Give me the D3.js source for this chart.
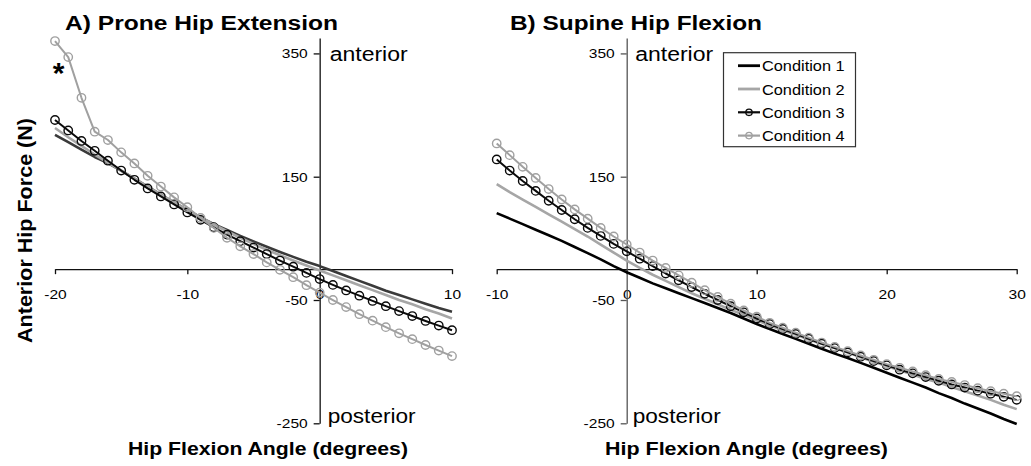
<!DOCTYPE html>
<html><head><meta charset="utf-8">
<script src="https://cdn.jsdelivr.net/npm/d3@7"></script>
<style>
body{margin:0;background:#fff}
svg{display:block}
text{font-family:"Liberation Sans",Arial,Helvetica,sans-serif;fill:#000}
</style>
</head><body>
<svg id="chart" width="1031" height="466"></svg>
<script>
// ---------- DATA ----------
const seriesNames = ["Condition 1", "Condition 2", "Condition 3", "Condition 4"];
const yTickValues = [350, 150, -50, -250];
const proneTicks = [-20, -10, 0, 10];
const supineTicks = [-10, 0, 10, 20, 30];

const proneAngles = [-20,-19,-18,-17,-16,-15,-14,-13,-12,-11,-10,-9,-8,-7,-6,-5,-4,-3,-2,-1,0,1,2,3,4,5,6,7,8,9,10];
const proneC1 = [218,206,194,182,172,160,147,134,121,108,96,84,73,63.5,54,45,36.5,28,20,12,5,-3,-11,-19,-27,-35,-42,-49,-56,-63,-69];
const proneC2 = [229,214,200,186,173,160,147,134,121,108.5,96,84,72.5,61.5,51,41,31.5,22.5,14,6,-2,-10,-18,-26,-34,-42,-50,-57,-65,-72,-80];
const proneC3 = [242,225,208,192,176,160,145,131,118,105,92,80,68,56,45.5,35,24.5,14,4,-6,-16,-25.5,-34.5,-43,-51.5,-60,-68,-76,-84,-91.5,-99];
const proneC4 = [370,344,278,223,209.5,189.5,171.5,151.5,134,116.5,100.5,83,67,51,37,24.5,11,-1,-13,-26,-38,-50,-61.5,-73,-83.5,-94,-104,-113.5,-123,-132,-141];

const supineAngles = [-10,-9,-8,-7,-6,-5,-4,-3,-2,-1,0,1,2,3,4,5,6,7,8,9,10,11,12,13,14,15,16,17,18,19,20,21,22,23,24,25,26,27,28,29,30];
const supineC1 = [91,82,73,64,55,46,36,26,16,5,-5,-14,-23,-31,-39,-47,-55,-63,-71,-80,-89,-97,-105,-113,-121,-129,-137,-144,-152,-160,-168,-176,-184,-192,-201,-209,-218,-226,-234,-243,-251];
const supineC2 = [138,125,113,101,89,77,65,53,40,27,14,2,-9,-19,-29,-39,-48,-57,-66,-74,-83,-91,-99,-106,-114,-121,-128,-135,-143,-150,-157,-164,-171,-178,-184,-191,-198,-205,-212,-220,-227];
const supineC3 = [178,160,143,127,111,96,81,67,54,41,29,17,5,-7,-18,-29,-40,-50,-60,-70,-80,-89,-97,-105,-113,-121,-128,-135,-142,-149,-156,-163,-169,-175,-181,-187,-192,-197,-202,-207,-212];
const supineC4 = [204,185,166,148,130,113,97,82,67,53,40,27,14,2,-10,-22,-34,-45,-56,-67,-77,-87,-95,-103,-111,-119,-126,-133,-140,-147,-154,-160,-166,-172,-178,-183,-188,-193,-198,-202,-206];

// ---------- DRAWING ----------
const svg = d3.select("#chart");
const y = d3.scaleLinear().domain([-250, 375]).range([423.3, 38]);
const fmt = d => String(d);

function stretch(sel, k) {
  sel.each(function() {
    const L = this.getComputedTextLength();
    d3.select(this).attr("textLength", L * k).attr("lengthAdjust", "spacingAndGlyphs");
  });
}
function label(g, x, yy, str, size, bold, len, anchor) {
  const t = g.append("text").attr("x", x).attr("y", yy).text(str)
    .style("font-size", size + "px").style("font-weight", bold ? "bold" : "normal")
    .attr("text-anchor", anchor || "start");
  if (len) t.attr("textLength", len).attr("lengthAdjust", "spacingAndGlyphs");
  return t;
}

const styles = [
  {w: 2.6, marker: false},
  {w: 2.6, color: "#a6a6a6", marker: false},
  {w: 2.0, color: "#0a0a0a", marker: true},
  {w: 2.0, color: "#a0a0a0", marker: true}
];

function panel(cfg) {
  const g = svg.append("g");
  const x = d3.scaleLinear().domain(cfg.xDomain).range(cfg.xRange);
  const x0 = x(0), y0 = y(0);

  // axes
  const ax = d3.axisBottom(x).tickValues(cfg.ticks).tickFormat(fmt)
    .tickSizeInner(5).tickSizeOuter(0).tickPadding(15);
  const ag = g.append("g").attr("transform", `translate(0,${y0})`).call(ax);
  ag.selectAll("path,line").attr("stroke", "#111").attr("stroke-width", 1.3);
  ag.selectAll("text").style("font-size", "13.5px").style("font-family", "'Liberation Sans',Arial,sans-serif").attr("fill", "#000");
  stretch(ag.selectAll("text"), 1.15);

  const ay = d3.axisLeft(y).tickValues(yTickValues).tickFormat(fmt)
    .tickSizeInner(6).tickSizeOuter(0).tickPadding(6);
  const yg = g.append("g").attr("transform", `translate(${x0},0)`).call(ay);
  yg.selectAll("path,line").attr("stroke", cfg.yAxisColor).attr("stroke-width", 1.3);
  yg.selectAll("text").style("font-size", "13.5px").style("font-family", "'Liberation Sans',Arial,sans-serif").attr("fill", "#000");
  stretch(yg.selectAll("text"), 1.15);

  // texts
  label(g, cfg.titleX, 29.5, cfg.title, 20, true, cfg.titleLen);
  label(g, x0 + cfg.antDx, 61, "anterior", 20, false, 78);
  label(g, x0 + cfg.postDx, 423, "posterior", 20, false, 88);
  label(g, cfg.xTitleX, 455, "Hip Flexion Angle (degrees)", 18, true, cfg.xTitleLen, "middle");

  // series
  cfg.series.forEach((vals, i) => {
    const st = styles[i];
    const col = (i === 0) ? cfg.c1Color : st.color;
    const pts = cfg.angles.map((a, j) => [a, vals[j]]);
    const line = d3.line().x(d => x(d[0])).y(d => y(d[1]));
    g.append("path").datum(pts).attr("d", line).attr("fill", "none")
      .attr("stroke", col).attr("stroke-width", st.w).attr("stroke-linejoin", "round");
    if (st.marker) {
      g.append("g").selectAll("circle").data(pts).join("circle")
        .attr("cx", d => x(d[0])).attr("cy", d => y(d[1])).attr("r", 4.2)
        .attr("fill", "none").attr("stroke", col).attr("stroke-width", 1.4);
    }
  });
  return {g, x};
}

panel({
  xDomain: [-20, 10], xRange: [55, 452], ticks: proneTicks,
  angles: proneAngles, series: [proneC1, proneC2, proneC3, proneC4],
  title: "A) Prone Hip Extension", titleX: 65, titleLen: 273,
  antDx: 10, postDx: 8, xTitleX: 268, xTitleLen: 280,
  yAxisColor: "#111", c1Color: "#3a3a3a"
});
panel({
  xDomain: [-10, 30], xRange: [496.7, 1016.7], ticks: supineTicks,
  angles: supineAngles, series: [supineC1, supineC2, supineC3, supineC4],
  title: "B) Supine Hip Flexion", titleX: 510, titleLen: 252,
  antDx: 8.5, postDx: 6, xTitleX: 746.5, xTitleLen: 283,
  yAxisColor: "#555", c1Color: "#000"
});

// asterisk marking significance
svg.append("text").attr("x", 58.5).attr("y", 83).attr("text-anchor", "middle")
  .style("font-size", "30px").style("font-weight", "bold").text("*");

// y axis title
svg.append("text").attr("transform", "translate(32,230.5) rotate(-90)")
  .attr("text-anchor", "middle").style("font-size", "21px").style("font-weight", "bold")
  .attr("textLength", 225).attr("lengthAdjust", "spacingAndGlyphs")
  .text("Anterior Hip Force (N)");

// legend
const lg = svg.append("g");
lg.append("rect").attr("x", 723.5).attr("y", 52.7).attr("width", 132).attr("height", 94)
  .attr("fill", "#fff").attr("stroke", "#333").attr("stroke-width", 1.2);
seriesNames.forEach((name, i) => {
  const cy = 65.7 + i * 23.3;
  const st = styles[i];
  const col = i === 0 ? "#000" : st.color;
  lg.append("line").attr("x1", 738).attr("x2", 760).attr("y1", cy).attr("y2", cy)
    .attr("stroke", col).attr("stroke-width", i < 2 ? 2.8 : 2.2);
  if (st.marker) {
    lg.append("circle").attr("cx", 749).attr("cy", cy).attr("r", 3.2)
      .attr("fill", "none").attr("stroke", col).attr("stroke-width", 1.3);
  }
  label(lg, 762, cy + 5.5, name, 15.5, false, 82.6);
});
</script>
</body></html>
